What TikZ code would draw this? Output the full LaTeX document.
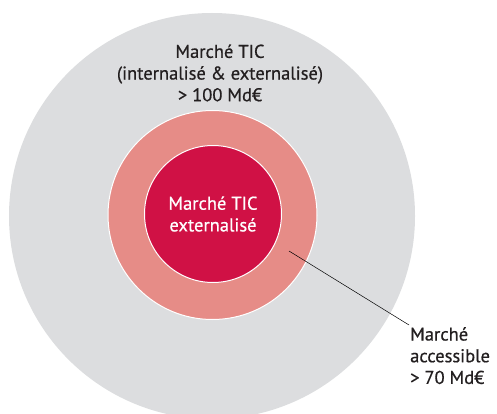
\documentclass[tikz,border=0pt]{standalone}
\usepackage{fontspec}
\newfontfamily\lblfont{PT Sans}[FakeBold=0.6]
\definecolor{greyc}{HTML}{DCDDDF}
\definecolor{salmon}{HTML}{E68C87}
\definecolor{redc}{HTML}{D01145}
\definecolor{txt}{HTML}{231F20}
\begin{document}
\begin{tikzpicture}[x=1pt,y=1pt,
  disc/.style={circle,inner sep=0pt,outer sep=0pt},
  lbl/.style={text=txt,align=center,font=\lblfont\fontsize{18.5}{21.7}\selectfont,inner sep=0pt}]
\useasboundingbox (0,0) rectangle (497,413);
\clip (0,0) rectangle (497,413);
\fill[white] (0,0) rectangle (497,413);
\node[disc,fill=greyc,minimum size=406pt] (outer) at (212,197) {};
\node[disc,fill=salmon,draw=white,line width=1pt,minimum size=209pt] (mid) at (212.5,198) {};
\node[disc,fill=redc,draw=white,line width=1pt,minimum size=137pt] (inner) at (213,199) {};
\node[lbl] (t1) at (220,340) {Marché TIC\\(internalisé \& externalisé)\\> 100 Md€};
\node[lbl,text=white] (t2) at (213,199) {Marché TIC\\externalisé};
\node[lbl,align=left,anchor=north west] (t3) at (410,86) {Marché\\accessible\\> 70 Md€};
\coordinate (p) at (289,162);
\draw[black,line width=0.5pt] (p) -- ([shift={(-1,2)}]t3.north west);
\end{tikzpicture}
\end{document}
